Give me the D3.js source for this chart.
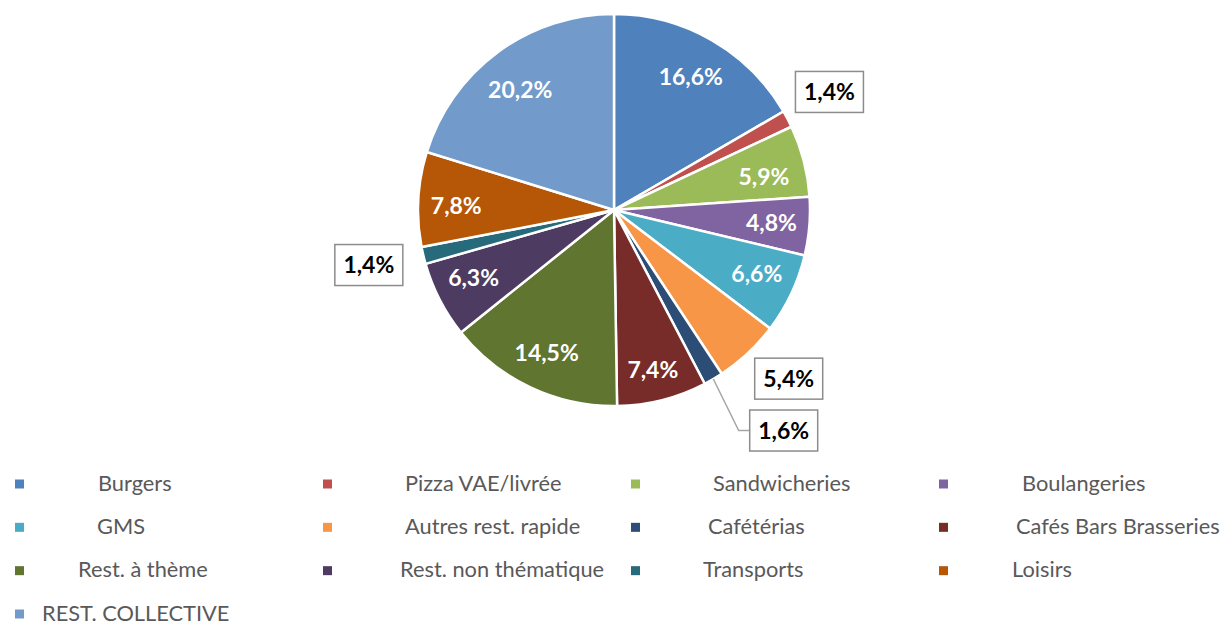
<!DOCTYPE html>
<html>
<head>
<meta charset="utf-8">
<script src="https://cdn.jsdelivr.net/npm/d3@7/dist/d3.min.js"></script>
<style>
  body { margin: 0; background: #fff; }
  svg { display: block; }
  text { font-family: Lato, "Open Sans", sans-serif; }
</style>
</head>
<body>
<svg id="chart"></svg>
<script>
// parts de marché par circuit (%)
const categories = [
  "Burgers", "Pizza VAE/livrée", "Sandwicheries", "Boulangeries",
  "GMS", "Autres rest. rapide", "Cafétérias", "Cafés Bars Brasseries",
  "Rest. à thème", "Rest. non thématique", "Transports", "Loisirs",
  "REST. COLLECTIVE"
];
const shares = [16.6, 1.4, 5.9, 4.8, 6.6, 5.4, 1.6, 7.4, 14.5, 6.3, 1.4, 7.8, 20.2];
const colors = [
  "#4F81BD", "#C0504D", "#9BBB59", "#8064A2",
  "#4BACC6", "#F79646", "#2C4D75", "#772C2A",
  "#5F7530", "#4D3B62", "#276A7C", "#B65708",
  "#729ACA"
];
// small slices get a boxed label outside the pie
const boxedLabels = ["Pizza VAE/livrée", "Autres rest. rapide", "Cafétérias", "Transports"];

const width = 1230, height = 626;
const cx = 614, cy = 210, radius = 196;

// nudges for the labels (Excel moved some of them by hand)
const boxNudge = {
  "Pizza VAE/livrée": [-6, -2],
  "Autres rest. rapide": [4, -14],
  "Cafétérias": [43, 5],
  "Transports": [-2, -3]
};
const innerNudge = {
  "REST. COLLECTIVE": [0, 7],
  "Burgers": [-2, 4],
  "Sandwicheries": [-3, 6],
  "GMS": [0, -4],
  "Cafés Bars Brasseries": [0, 7],
  "Rest. non thématique": [0, -5],
  "Loisirs": [0, 4]
};
// legend text indents (the source names were padded)
const legendIndent = [74, 73, 73, 74, 73, 73, 68, 68, 54, 68, 63, 64, 18];

const data = categories.map((c, i) => ({ name: c, value: shares[i], color: colors[i] }));
const fmt = v => d3.format(".1f")(v).replace(".", ",") + "%";

const svg = d3.select("#chart")
  .attr("width", width)
  .attr("height", height);

const pie = d3.pie()
  .sort(null)
  .value(d => d.value);

const arcs = pie(data);

const arc = d3.arc()
  .innerRadius(0)
  .outerRadius(radius);

const labelArc = d3.arc()
  .innerRadius(158)
  .outerRadius(158);

const boxArc = d3.arc()
  .innerRadius(250)
  .outerRadius(250);

const edgeArc = d3.arc()
  .innerRadius(radius)
  .outerRadius(radius);

const g = svg.append("g")
  .attr("transform", `translate(${cx},${cy})`);

g.selectAll("path.slice")
  .data(arcs)
  .enter()
    .append("path")
    .attr("class", "slice")
    .attr("d", arc)
    .attr("fill", d => d.data.color)
    .attr("stroke", "#fff")
    .attr("stroke-width", 2.5)
    .attr("stroke-linejoin", "round");

// labels inside the slices
g.selectAll("text.inner")
  .data(arcs.filter(d => !boxedLabels.includes(d.data.name)))
  .enter()
    .append("text")
    .attr("class", "inner")
    .attr("transform", d => {
      const [x, y] = labelArc.centroid(d);
      const n = innerNudge[d.data.name] || [0, 0];
      return `translate(${x + n[0]},${y + n[1]})`;
    })
    .attr("text-anchor", "middle")
    .attr("dy", "0.36em")
    .attr("fill", "#fff")
    .attr("font-weight", "bold")
    .attr("font-size", 23)
    .text(d => fmt(d.data.value));

// boxed labels outside
const boxes = g.selectAll("g.box")
  .data(arcs.filter(d => boxedLabels.includes(d.data.name)))
  .enter()
    .append("g")
    .attr("class", "box")
    .attr("transform", d => {
      const [x, y] = boxArc.centroid(d);
      const n = boxNudge[d.data.name] || [0, 0];
      d.bx = x + n[0];
      d.by = y + n[1];
      return `translate(${d.bx},${d.by})`;
    });

const boxW = 68, boxH = 41;

// leader line for the label that was moved away from its slice
boxes.each(function (d) {
  if (d.data.name !== "Cafétérias") return;
  const [sx, sy] = edgeArc.centroid(d);
  const left = d.bx - boxW / 2;
  g.insert("polyline", "g.box")
    .attr("points", [[sx, sy], [left - 11, d.by], [left, d.by]].map(p => p.join(",")).join(" "))
    .attr("fill", "none")
    .attr("stroke", "#a6a6a6")
    .attr("stroke-width", 1.5);
});

boxes.append("rect")
  .attr("x", -boxW / 2)
  .attr("y", -boxH / 2)
  .attr("width", boxW)
  .attr("height", boxH)
  .attr("fill", "#fff")
  .attr("stroke", "#8c8c8c")
  .attr("stroke-width", 1.5);

boxes.append("text")
  .attr("text-anchor", "middle")
  .attr("dy", "0.36em")
  .attr("fill", "#000")
  .attr("font-weight", "bold")
  .attr("font-size", 23)
  .text(d => fmt(d.data.value));

// legend, 4 columns
const legendX = d3.scalePoint().domain([0, 1, 2, 3]).range([15, 939]);
const legendY = d3.scalePoint().domain([0, 1, 2, 3]).range([484, 614]);
const markerSize = 9;

const legend = svg.append("g")
  .selectAll("g")
  .data(data)
  .enter()
    .append("g")
    .attr("transform", (d, i) => `translate(${legendX(i % 4)},${legendY(Math.floor(i / 4))})`);

legend.append("rect")
  .attr("x", 0)
  .attr("y", -markerSize / 2)
  .attr("width", markerSize)
  .attr("height", markerSize)
  .attr("fill", d => d.color);

legend.append("text")
  .attr("x", (d, i) => markerSize + legendIndent[i])
  .attr("dy", "0.3em")
  .attr("fill", "#595959")
  .attr("font-size", 21.8)
  .text(d => d.name);
</script>
</body>
</html>
